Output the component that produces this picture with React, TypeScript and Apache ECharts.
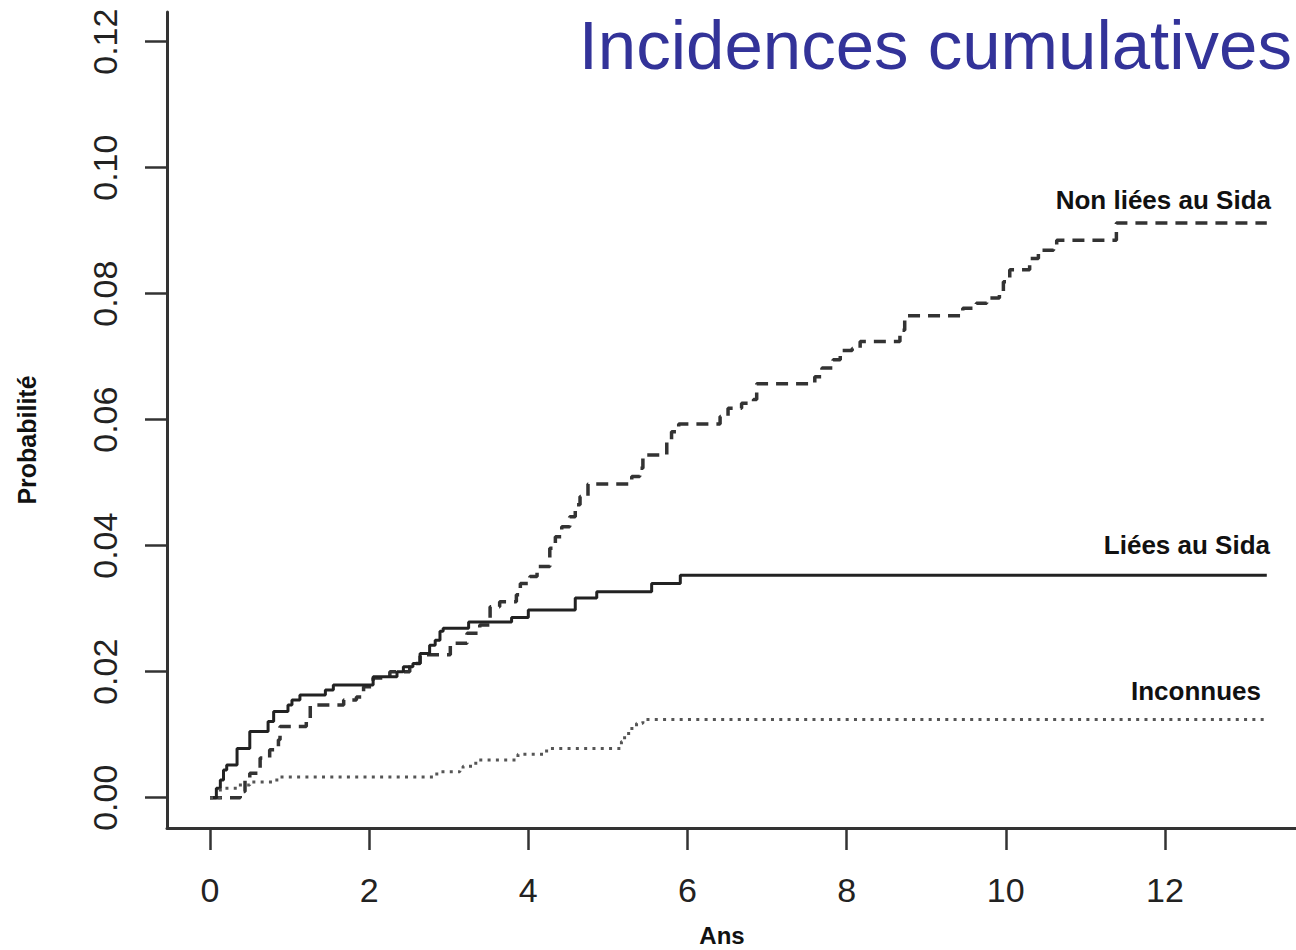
import React, { useEffect, useRef } from "react";
import * as echarts from "echarts";

// [years, cumulative probability] — value holds from that time onward
const nonLieesAuSida: [number, number][] = [
  [0, 0], [0.38, 0.001], [0.44, 0.0028], [0.5, 0.0039], [0.63, 0.0063], [0.75, 0.0076],
  [0.86, 0.0092], [0.88, 0.0113], [1.21, 0.0126], [1.26, 0.0147], [1.68, 0.0155],
  [1.84, 0.016], [1.93, 0.0176], [2.05, 0.019], [2.26, 0.02], [2.51, 0.0213],
  [2.64, 0.0227], [3.02, 0.0245], [3.23, 0.0261], [3.39, 0.0274], [3.52, 0.0303],
  [3.64, 0.0311], [3.85, 0.0322], [3.9, 0.034], [4.02, 0.0351], [4.11, 0.0367],
  [4.27, 0.0396], [4.34, 0.0414], [4.42, 0.043], [4.52, 0.0446], [4.59, 0.0465],
  [4.65, 0.0478], [4.75, 0.0498], [5.3, 0.051], [5.4, 0.0523], [5.44, 0.0544],
  [5.74, 0.0565], [5.8, 0.0581], [5.89, 0.0593], [6.41, 0.0605], [6.51, 0.0618],
  [6.68, 0.0626], [6.83, 0.0632], [6.87, 0.0657], [7.6, 0.0668], [7.69, 0.0682],
  [7.83, 0.0695], [7.92, 0.071], [8.07, 0.0713], [8.17, 0.0724], [8.67, 0.0742],
  [8.73, 0.0765], [9.46, 0.0777], [9.63, 0.0785], [9.76, 0.0793], [9.92, 0.0798],
  [9.97, 0.0819], [10.05, 0.0838], [10.3, 0.0856], [10.41, 0.0869], [10.6, 0.0872],
  [10.64, 0.0885], [11.39, 0.0912], [13.28, 0.0912],
];

const lieesAuSida: [number, number][] = [
  [0, 0], [0.08, 0.0015], [0.13, 0.0028], [0.17, 0.0044], [0.21, 0.0052], [0.34, 0.0078],
  [0.5, 0.0105], [0.73, 0.0121], [0.8, 0.0137], [0.98, 0.0147], [1.03, 0.0155],
  [1.13, 0.0163], [1.45, 0.0171], [1.55, 0.0179], [2.05, 0.0192], [2.35, 0.02],
  [2.43, 0.0208], [2.55, 0.0213], [2.64, 0.0229], [2.76, 0.0242], [2.83, 0.025],
  [2.89, 0.0264], [2.93, 0.0269], [3.25, 0.0279], [3.79, 0.0286], [4.0, 0.0298],
  [4.59, 0.0317], [4.86, 0.0327], [5.55, 0.034], [5.91, 0.0353], [13.28, 0.0353],
];

const inconnues: [number, number][] = [
  [0, 0], [0.13, 0.0015], [0.34, 0.002], [0.5, 0.0025], [0.84, 0.0033], [2.85, 0.0041],
  [3.14, 0.0044], [3.18, 0.005], [3.34, 0.006], [3.87, 0.0069], [4.23, 0.0078],
  [5.17, 0.0089], [5.21, 0.0102], [5.28, 0.011], [5.36, 0.0118], [5.44, 0.0124],
  [13.28, 0.0124],
];

const xTicks = [0, 2, 4, 6, 8, 10, 12];
const yTicks = [0, 0.02, 0.04, 0.06, 0.08, 0.1, 0.12];
const yTickLabels = ["0.00", "0.02", "0.04", "0.06", "0.08", "0.10", "0.12"];

const titleText = "Incidences cumulatives";
const seriesLabels = ["Non liées au Sida", "Liées au Sida", "Inconnues"];
const xName = "Ans";
const yName = "Probabilité";

const FONT = "'Liberation Sans', Arial, Helvetica, sans-serif";

export default function App() {
  const ref = useRef<HTMLDivElement>(null);

  useEffect(() => {
    if (!ref.current) return;
    const chart = echarts.init(ref.current, undefined, { renderer: "svg" });
    const labelStyle = (text: string, size: number) => ({
      text,
      fontSize: size,
      fontWeight: "bold",
      fontFamily: FONT,
      fill: "#111",
      verticalAlign: "middle",
    });
    const option: any = {
      animation: false,
      backgroundColor: "#ffffff",
      grid: { left: 167, top: 12, right: 0, bottom: 122, containLabel: false },
      xAxis: {
        type: "value",
        min: -0.5403,
        max: 13.647,
        splitLine: { show: false },
        axisLine: { show: true, onZero: false, lineStyle: { color: "#333", width: 3 } },
        axisTick: {
          show: true,
          customValues: xTicks,
          length: 22,
          inside: false,
          lineStyle: { color: "#333", width: 2.5 },
        },
        axisLabel: {
          customValues: xTicks,
          margin: 45,
          fontSize: 34,
          fontFamily: FONT,
          color: "#222",
          formatter: (v: number) => String(v),
        },
      },
      yAxis: {
        type: "value",
        min: -0.00481,
        max: 0.12471,
        splitLine: { show: false },
        axisLine: { show: true, onZero: false, lineStyle: { color: "#333", width: 3 } },
        axisTick: {
          show: true,
          customValues: yTicks,
          length: 22,
          inside: false,
          lineStyle: { color: "#333", width: 2.5 },
        },
        axisLabel: {
          customValues: yTicks,
          rotate: 90,
          margin: 45,
          fontSize: 34,
          fontFamily: FONT,
          color: "#222",
          formatter: (v: number) => {
            const i = yTicks.findIndex((t) => Math.abs(t - v) < 1e-9);
            return i >= 0 ? yTickLabels[i] : v.toFixed(2);
          },
        },
      },
      series: [
        {
          name: seriesLabels[0],
          type: "line",
          step: "end",
          data: nonLieesAuSida,
          symbol: "none",
          lineStyle: { color: "#333", width: 3.5, type: [12, 8] },
          silent: true,
        },
        {
          name: seriesLabels[1],
          type: "line",
          step: "end",
          data: lieesAuSida,
          symbol: "none",
          lineStyle: { color: "#222", width: 3, type: "solid" },
          silent: true,
        },
        {
          name: seriesLabels[2],
          type: "line",
          step: "end",
          data: inconnues,
          symbol: "none",
          lineStyle: { color: "#555", width: 3, type: [3, 5.3] },
          silent: true,
        },
      ],
      graphic: [
        {
          type: "text",
          x: 1292,
          y: 45,
          style: {
            text: titleText,
            fontSize: 69,
            fontFamily: FONT,
            fill: "#333399",
            align: "right",
            verticalAlign: "middle",
          },
        },
        { type: "text", x: 1271, y: 200, style: { ...labelStyle(seriesLabels[0], 26), align: "right" } },
        { type: "text", x: 1270, y: 545, style: { ...labelStyle(seriesLabels[1], 26), align: "right" } },
        { type: "text", x: 1261, y: 691, style: { ...labelStyle(seriesLabels[2], 26), align: "right" } },
        { type: "text", x: 722, y: 935, style: { ...labelStyle(xName, 24), align: "center" } },
        {
          type: "text",
          x: 27,
          y: 440,
          rotation: Math.PI / 2,
          style: { ...labelStyle(yName, 25), align: "center" },
        },
      ],
    };
    chart.setOption(option);
    return () => chart.dispose();
  }, []);

  return (
    <div
      ref={ref}
      style={{ position: "absolute", left: 0, top: 0, width: 1296, height: 950, background: "#fff" }}
    />
  );
}
